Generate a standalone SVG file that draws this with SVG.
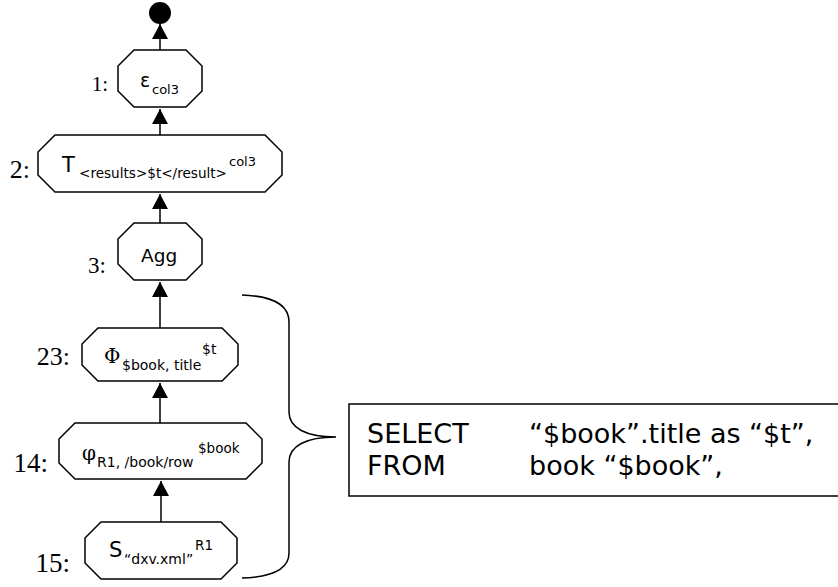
<svg xmlns="http://www.w3.org/2000/svg" width="838" height="587" viewBox="0 0 838 587">
<style>
.oct{fill:#fff;stroke:#000;stroke-width:1.5}
.lbl{font-family:"Liberation Serif","Times New Roman",serif;fill:#000;text-anchor:end}
.t{font-family:"DejaVu Sans",Verdana,sans-serif;fill:#000}
.g{font-family:"DejaVu Serif","Liberation Serif",serif;fill:#000}
.edge{stroke:#000;stroke-width:1.5;fill:none}
</style>
<defs>
<marker id="ah" markerUnits="userSpaceOnUse" markerWidth="16" markerHeight="16" viewBox="0 0 16 16" refX="15" refY="8" orient="auto">
<path d="M0,0 L15,8 L0,16 Z" fill="#000"/>
</marker>
</defs>
<g id="connectors">
<circle id="end" cx="160" cy="13" r="11" fill="#000"/>
<line class="edge" x1="160" y1="50" x2="160" y2="24" marker-end="url(#ah)"/>
<line class="edge" x1="160" y1="135" x2="160" y2="109" marker-end="url(#ah)"/>
<line class="edge" x1="160" y1="223" x2="160" y2="194" marker-end="url(#ah)"/>
<line class="edge" x1="160" y1="328" x2="160" y2="282" marker-end="url(#ah)"/>
<line class="edge" x1="160" y1="423" x2="160" y2="383" marker-end="url(#ah)"/>
<line class="edge" x1="161" y1="522" x2="161" y2="481" marker-end="url(#ah)"/>
</g>
<g id="node1">
<polygon class="oct" points="134,50 186,50 202,66 202,91 186,107 134,107 118,91 118,66"/>
<text class="t" x="140" y="87" font-size="19">ε</text>
<text class="t" x="152" y="94" font-size="13">col3</text>
<text class="lbl" x="108" y="91" font-size="21">1:</text>
</g>
<g id="node2">
<polygon class="oct" points="55,135 265,135 282,152 282,175 265,192 55,192 38,175 38,152"/>
<text class="t" x="62" y="172" font-size="21">T</text>
<text class="t" x="79" y="178" font-size="14" textLength="148" lengthAdjust="spacingAndGlyphs">&lt;results&gt;$t&lt;/result&gt;</text>
<text class="t" x="229" y="166" font-size="13">col3</text>
<text class="lbl" x="30" y="178" font-size="26">2:</text>
</g>
<g id="node3">
<polygon class="oct" points="134,223 186,223 202,239 202,264 186,280 134,280 118,264 118,239"/>
<text class="t" x="141" y="262" font-size="18.5">Agg</text>
<text class="lbl" x="106" y="273" font-size="23">3:</text>
</g>
<g id="node23">
<polygon class="oct" points="98,328 222,328 238,344 238,365 222,381 98,381 82,365 82,344"/>
<text class="g" x="104" y="363" font-size="20">Φ</text>
<text class="t" x="122" y="370" font-size="14">$book, title</text>
<text class="t" x="202" y="354" font-size="14">$t</text>
<text class="lbl" x="70" y="365" font-size="26">23:</text>
</g>
<g id="node14">
<polygon class="oct" points="75,423 246,423 262,439 262,463 246,479 75,479 59,463 59,439"/>
<text class="g" x="82" y="460" font-size="20">φ</text>
<text class="t" x="97" y="467" font-size="14">R1, /book/row</text>
<text class="t" x="198" y="453" font-size="13.5">$book</text>
<text class="lbl" x="48" y="472" font-size="27">14:</text>
</g>
<g id="node15">
<polygon class="oct" points="101,522 221,522 237,538 237,563 221,579 101,579 85,563 85,538"/>
<text class="t" x="109" y="557" font-size="21">S</text>
<text class="t" x="124" y="564" font-size="14">“dxv.xml”</text>
<text class="t" x="195" y="550" font-size="13.5">R1</text>
<text class="lbl" x="70" y="572" font-size="27">15:</text>
</g>
<g id="brace">
<path class="edge" d="M242,295 C272,296 289,304 289,322 L289,412 C289,428 306,437 336,437 C306,437 289,446 289,462 L289,553 C289,570 272,577 242,578"/>
</g>
<g id="sql">
<rect x="349" y="404" width="500" height="92" fill="#fff" stroke="#000" stroke-width="1.5"/>
<text class="t" x="367" y="443" font-size="27">SELECT</text>
<text class="t" x="367" y="475" font-size="27">FROM</text>
<text class="t" x="529" y="443" font-size="27">“$book”.title as “$t”,</text>
<text class="t" x="529" y="475" font-size="27">book “$book”,</text>
</g>
</svg>
